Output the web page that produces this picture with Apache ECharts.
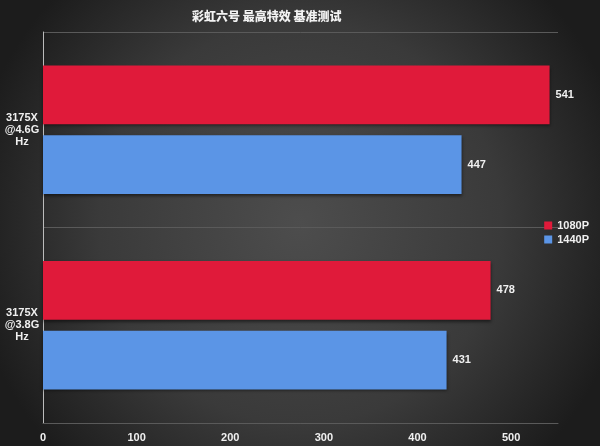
<!DOCTYPE html>
<html><head><meta charset="utf-8">
<script src="https://cdn.jsdelivr.net/npm/echarts@6/dist/echarts.min.js"></script>
<style>html,body{margin:0;padding:0;background:#333}#c{width:600px;height:446px}</style>
</head><body><div id="c"></div>
<script>
var categories = ['3175X\n@4.6G\nHz', '3175X\n@3.8G\nHz'];
var series1080 = [541, 478];
var series1440 = [447, 431];
var xTicks = [0, 100, 200, 300, 400, 500];

var chart = echarts.init(document.getElementById('c'));
var labelStyle = {show: true, position: 'right', color: '#f0f0f0', fontWeight: 'bold', fontSize: 11, fontFamily: 'Liberation Sans, Arial', distance: 6};
chart.setOption({
  backgroundColor: {type: 'radial', x: 0.5, y: 0.5, r: 0.75, colorStops: [{offset: 0, color: '#4d4d4d'}, {offset: 0.6, color: '#3a3a3a'}, {offset: 1, color: '#1c1c1c'}]},
  textStyle: {fontFamily: 'Liberation Sans, Arial'},
  title: {text: '彩虹六号 最高特效 基准测试', left: 187, top: 5, textStyle: {color: '#f2f2f2', fontSize: 12, fontWeight: 900, fontFamily: 'Noto Sans CJK SC'}},
  legend: {orient: 'vertical', right: 6, top: 215, itemWidth: 8, itemHeight: 8, itemGap: 3, icon: 'rect',
    textStyle: {color: '#f0f0f0', fontWeight: 'bold', fontSize: 11}, data: ['1080P', '1440P']},
  grid: {left: 43, right: 42, top: 32, bottom: 23, containLabel: false},
  xAxis: {type: 'value', min: 0, max: 550, interval: 100,
    axisLine: {show: true, lineStyle: {color: '#5a5a5a', width: 1}}, axisTick: {show: false},
    splitLine: {show: false},
    axisLabel: {color: '#f0f0f0', fontWeight: 'bold', fontSize: 11, showMaxLabel: false, margin: 9,
      formatter: function (v) { return xTicks.indexOf(v) >= 0 ? String(v) : ''; }}
  },
  yAxis: {type: 'category', data: categories, inverse: true,
    axisLine: {show: true, lineStyle: {color: '#bbbbbb', width: 1}},
    axisTick: {show: false},
    splitLine: {show: true, lineStyle: {color: '#5a5a5a', width: 1}},
    axisLabel: {color: '#f0f0f0', fontWeight: 'bold', fontSize: 11, lineHeight: 12, margin: 21, align: 'center'}
  },
  series: [
    {name: '1080P', type: 'bar', data: series1080, barWidth: '30%', barGap: '19%',
      itemStyle: {color: '#e01a3a', shadowColor: 'rgba(0,0,0,0.5)', shadowBlur: 3, shadowOffsetY: 2}, label: labelStyle},
    {name: '1440P', type: 'bar', data: series1440, barWidth: '30%', barGap: '19%',
      itemStyle: {color: '#5b95e6', shadowColor: 'rgba(0,0,0,0.5)', shadowBlur: 3, shadowOffsetY: 2}, label: labelStyle}
  ]
});
</script></body></html>
